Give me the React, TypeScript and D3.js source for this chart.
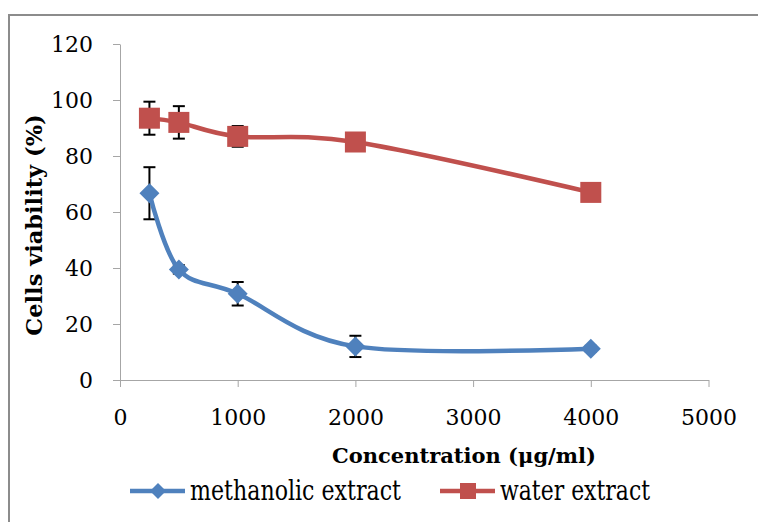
import React, { useEffect, useRef } from "react";
import * as d3 from "d3";

const concentrations = [250, 500, 1000, 2000, 4000];
const methanolic = [66.7, 39.5, 30.8, 12, 11.2];
const methanolicErr = [9.3, 1.5, 4.2, 3.8, 1];
const water = [93.5, 92, 87, 85, 67];
const waterErr = [5.9, 5.8, 3.7, 1, 1.5];
const xTicks = [0, 1000, 2000, 3000, 4000, 5000];
const yTicks = [0, 20, 40, 60, 80, 100, 120];

const seriesList = [
  { name: "methanolic extract", values: methanolic, errors: methanolicErr, color: "#4f81bd", shape: "diamond" },
  { name: "water extract", values: water, errors: waterErr, color: "#c0504d", shape: "square" },
];

const FONT = "'DejaVu Serif', 'Liberation Serif', serif";

function App() {
  const svgRef = useRef<SVGSVGElement>(null);

  useEffect(() => {
    const svg = d3.select(svgRef.current);
    svg.selectAll("*").remove();

    const x = d3.scaleLinear().domain([0, 5000]).range([120, 708.5]);
    const y = d3.scaleLinear().domain([0, 120]).range([380, 44]);

    // outer frame (only top and left visible)
    svg
      .append("path")
      .attr("d", "M9,522 L9,15 L758,15")
      .attr("fill", "none")
      .attr("stroke", "#8c8c8c")
      .attr("stroke-width", 2);

    // y axis
    const yAxis = svg
      .append("g")
      .attr("transform", "translate(120,0)")
      .call(d3.axisLeft(y).tickValues(yTicks).tickSizeInner(7).tickSizeOuter(0).tickPadding(20));
    yAxis.select(".domain").attr("stroke", "#a6a6a6");
    yAxis.selectAll(".tick line").attr("stroke", "#a6a6a6");
    yAxis
      .selectAll("text")
      .attr("font-family", FONT)
      .attr("font-size", 22)
      .attr("fill", "#000");

    // x axis
    const xAxis = svg
      .append("g")
      .attr("transform", "translate(0,380)")
      .call(d3.axisBottom(x).tickValues(xTicks).tickFormat(d3.format("d")).tickSizeInner(7).tickSizeOuter(0).tickPadding(22));
    xAxis.select(".domain").attr("stroke", "#a6a6a6");
    xAxis.selectAll(".tick line").attr("stroke", "#a6a6a6");
    xAxis
      .selectAll("text")
      .attr("font-family", FONT)
      .attr("font-size", 22)
      .attr("fill", "#000");

    // axis titles
    svg
      .append("text")
      .attr("transform", "translate(42,225) rotate(-90)")
      .attr("text-anchor", "middle")
      .attr("font-family", FONT)
      .attr("font-weight", "bold")
      .attr("font-size", 22.5)
      .text("Cells viability (%)");

    svg
      .append("text")
      .attr("x", 464)
      .attr("y", 463)
      .attr("text-anchor", "middle")
      .attr("font-family", FONT)
      .attr("font-weight", "bold")
      .attr("font-size", 21)
      .text("Concentration (μg/ml)");

    const line = d3
      .line<number>()
      .x((_, i) => x(concentrations[i]))
      .y((d) => y(d))
      .curve(d3.curveCardinal.tension(0));

    const marker = (g: any, shape: string, color: string, cx: number, cy: number) => {
      if (shape === "diamond") {
        g.append("path")
          .attr("d", `M${cx},${cy - 10} L${cx + 10},${cy} L${cx},${cy + 10} L${cx - 10},${cy} Z`)
          .attr("fill", color);
      } else {
        g.append("rect")
          .attr("x", cx - 10.5)
          .attr("y", cy - 10.5)
          .attr("width", 21)
          .attr("height", 21)
          .attr("fill", color);
      }
    };

    seriesList.forEach((s) => {
      const g = svg.append("g");
      // error bars
      s.values.forEach((v, i) => {
        const cx = x(concentrations[i]);
        const top = y(v + s.errors[i]);
        const bot = y(v - s.errors[i]);
        g.append("line").attr("x1", cx).attr("x2", cx).attr("y1", top).attr("y2", bot).attr("stroke", "#000").attr("stroke-width", 2);
        [top, bot].forEach((yy) =>
          g.append("line").attr("x1", cx - 6).attr("x2", cx + 6).attr("y1", yy).attr("y2", yy).attr("stroke", "#000").attr("stroke-width", 2)
        );
      });
      g.append("path")
        .attr("d", line(s.values))
        .attr("fill", "none")
        .attr("stroke", s.color)
        .attr("stroke-width", 4.5);
      s.values.forEach((v, i) => marker(g, s.shape, s.color, x(concentrations[i]), y(v)));
    });

    // legend
    const legendX = [130, 440];
    const legendW = [211, 150];
    seriesList.forEach((s, i) => {
      const lx = legendX[i];
      const ly = 491;
      const g = svg.append("g");
      g.append("line").attr("x1", lx).attr("x2", lx + 55).attr("y1", ly).attr("y2", ly).attr("stroke", s.color).attr("stroke-width", 4.5);
      if (s.shape === "diamond") {
        g.append("path")
          .attr("d", `M${lx + 28},${ly - 8} L${lx + 36},${ly} L${lx + 28},${ly + 8} L${lx + 20},${ly} Z`)
          .attr("fill", s.color);
      } else {
        g.append("rect").attr("x", lx + 20).attr("y", ly - 8).attr("width", 16).attr("height", 16).attr("fill", s.color);
      }
      g.append("text")
        .attr("x", lx + 60)
        .attr("y", ly + 9)
        .attr("font-family", FONT)
        .attr("font-size", 27)
        .attr("textLength", legendW[i])
        .attr("lengthAdjust", "spacingAndGlyphs")
        .text(s.name);
    });
  }, []);

  return (
    <svg
      ref={svgRef}
      width={758}
      height={522}
      style={{ position: "absolute", left: 0, top: 0, background: "#fff" }}
    />
  );
}

export default App;
